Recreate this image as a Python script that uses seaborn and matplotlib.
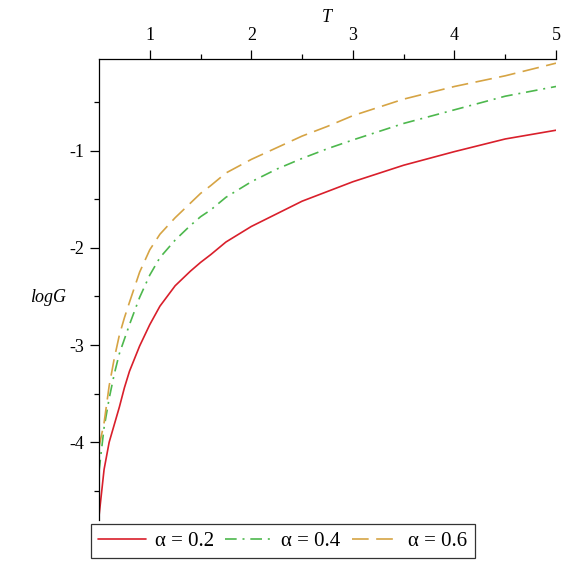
import numpy as np
import pandas as pd
import matplotlib
matplotlib.use('Agg')
import matplotlib.pyplot as plt
import seaborn as sns

# Data
T = [0.5, 0.55, 0.6, 0.65, 0.7, 0.75, 0.8, 0.9, 1.0, 1.1, 1.25, 1.4, 1.5, 1.6, 1.75,
     2.0, 2.25, 2.5, 2.75, 3.0, 3.5, 4.0, 4.5, 5.0]
log_g_02 = [-4.76, -4.28, -4.00, -3.82, -3.64, -3.44, -3.27, -3.01, -2.79, -2.60, -2.39,
            -2.24, -2.15, -2.07, -1.94, -1.78, -1.65, -1.52, -1.42, -1.32, -1.15, -1.01,
            -0.88, -0.79]
log_g_04 = [-4.30, -3.85, -3.55, -3.30, -3.09, -2.94, -2.79, -2.51, -2.28, -2.10, -1.92,
            -1.77, -1.68, -1.61, -1.48, -1.32, -1.19, -1.08, -0.98, -0.89, -0.72, -0.58,
            -0.44, -0.34]
log_g_06 = [-4.05, -3.80, -3.42, -3.14, -2.90, -2.72, -2.56, -2.25, -2.02, -1.86, -1.69,
            -1.54, -1.44, -1.36, -1.23, -1.09, -0.97, -0.85, -0.75, -0.64, -0.47, -0.34,
            -0.23, -0.10]
labels = ['α = 0.2', 'α = 0.4', 'α = 0.6']

df = pd.concat([
    pd.DataFrame({'T': T, 'logG': vals, 'series': lab})
    for vals, lab in zip([log_g_02, log_g_04, log_g_06], labels)
])

sns.set_theme(style='white')
plt.rcParams['font.family'] = ['Liberation Serif', 'DejaVu Serif']
plt.rcParams['axes.unicode_minus'] = False
plt.rcParams['text.color'] = 'black'
plt.rcParams['xtick.color'] = 'black'
plt.rcParams['ytick.color'] = 'black'

palette = {labels[0]: '#d91f2b', labels[1]: '#4db84d', labels[2]: '#d6a444'}
dashes = {labels[0]: '', labels[1]: (7, 3.5, 1.2, 3.5), labels[2]: (10, 4.5)}

fig = plt.figure(figsize=(5.68, 5.66), dpi=100)
ax = fig.add_axes([0.1743, 0.0813, 0.8046, 0.8145])

sns.lineplot(data=df, x='T', y='logG', hue='series', style='series',
             palette=palette, dashes=dashes, linewidth=1.2, ax=ax, legend=True)

ax.set_xlim(0.5, 5.0)
ax.set_ylim(-4.80, -0.057)

# Maple-style axes: x axis along the top, only left/top spines
for side in ['right', 'bottom']:
    ax.spines[side].set_visible(False)
for side in ['left', 'top']:
    ax.spines[side].set_color('black')
    ax.spines[side].set_linewidth(0.9)

ax.xaxis.set_ticks_position('top')
ax.xaxis.set_label_position('top')
ax.set_xticks([1, 2, 3, 4, 5])
ax.set_xticks([1.5, 2.5, 3.5, 4.5], minor=True)
ax.set_yticks([-1, -2, -3, -4])
ax.set_yticks([-0.5, -1.5, -2.5, -3.5, -4.5], minor=True)
ax.set_yticklabels(['-1', '-2', '-3', '-4'])
ax.tick_params(which='major', direction='out', length=6.5, width=0.9, color='black',
               labelcolor='black', labelsize=13, pad=4)
ax.tick_params(which='minor', direction='out', length=3.5, width=0.9, color='black')
ax.tick_params(axis='x', which='both', top=True, bottom=False)
ax.tick_params(axis='y', which='both', left=True, right=False)

ax.set_xlabel('')
ax.set_ylabel('')
fig.text(327 / 568, 1 - 17 / 566, 'T', style='italic', fontsize=13, color='black',
         ha='center', va='center')
fig.text(48 / 568, 1 - 297 / 566, 'logG', style='italic', fontsize=13, color='black',
         ha='center', va='center')

handles, labs = ax.get_legend_handles_labels()
ax.get_legend().remove()
leg = fig.legend(handles, labs, loc='upper center', bbox_to_anchor=(0.498, 0.0742),
                 ncol=3, fontsize=15, frameon=True, fancybox=False, edgecolor='black',
                 handlelength=2.3, handletextpad=0.4, columnspacing=0.55,
                 borderpad=0.35, borderaxespad=0, labelcolor='black')
leg.get_frame().set_linewidth(0.9)

plt.savefig('out.png', dpi=100)
plt.close()
